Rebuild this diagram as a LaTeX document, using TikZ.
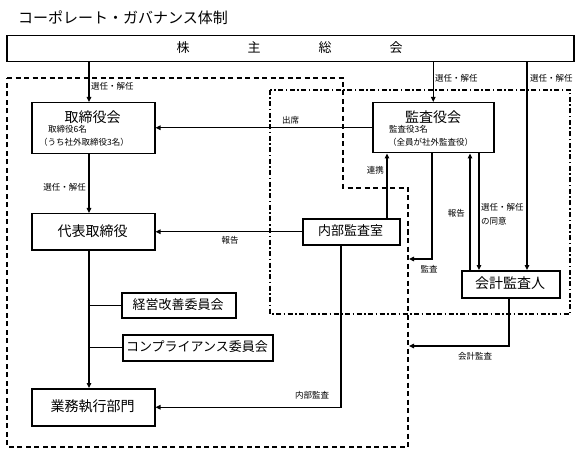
\documentclass[tikz,border=0pt]{standalone}
\usepackage{fontspec}
\setmainfont{Noto Sans CJK JP}
\usetikzlibrary{arrows.meta}
\tikzset{
  box/.style={draw, line width=1.5pt, inner sep=0pt, anchor=north west, fill=white},
  conn/.style={line width=1.2pt},
  arr/.style={conn, -{Triangle[length=5pt,width=4.5pt]}},
  lbl/.style={inner sep=0pt, font=\fontsize{8.5pt}{9pt}\selectfont},
  big/.style={inner sep=0pt, font=\fontsize{14pt}{16pt}\selectfont},
  mid/.style={inner sep=0pt, font=\fontsize{13pt}{15pt}\selectfont},
  dashbox/.style={line width=1.2pt, dash pattern=on 5pt off 3.5pt},
  dotbox/.style={line width=1.2pt, dash pattern=on 5pt off 2.5pt on 1.5pt off 2.5pt},
}
\begin{document}
\begin{tikzpicture}[x=1pt,y=-1pt]
\useasboundingbox (0,0) rectangle (580,454);
% title
\node[inner sep=0pt, anchor=west, font=\fontsize{15pt}{17pt}\selectfont] (title) at (18,18) {コーポレート・ガバナンス体制};
% region outlines
\draw[dashbox] (7,78) -- (343,78) -- (343,188) -- (408,188) -- (408,447) -- (7,447) -- cycle;
\draw[dotbox] (270,90) rectangle (570,314);
% boxes
\node[box, minimum width=567pt, minimum height=26pt] (sh) at (6,35) {};
\node[mid] (shtxt) at (289.5,47.5) {株\hskip58pt 主\hskip58pt 総\hskip58pt 会};
\node[box, minimum width=123pt, minimum height=51pt] (tb) at (31,102) {};
\node[big] (tbt) at (92.5,117) {取締役会};
\node[lbl, anchor=west] (tb1) at (48,129.5) {取締役6名};
\node[lbl, anchor=west] (tb2) at (39,142) {（うち社外取締役3名）};
\node[box, minimum width=121pt, minimum height=50pt] (kan) at (372,102) {};
\node[big] (kant) at (433,117) {監査役会};
\node[lbl, anchor=west] (kan1) at (389,129.5) {監査役3名};
\node[lbl, anchor=west] (kan2) at (388,142) {（全員が社外監査役）};
\node[box, minimum width=123pt, minimum height=36pt] (ceo) at (31,213) {};
\node[big] (ceot) at (92.5,231) {代表取締役};
\node[box, minimum width=97pt, minimum height=26pt] (nb) at (302,218) {};
\node[mid] (nbt) at (350.5,231) {内部監査室};
\node[box, minimum width=98pt, minimum height=27pt] (ka) at (461,270) {};
\node[big] (kat) at (510,283.5) {会計監査人};
\node[box, minimum width=114pt, minimum height=25pt] (kk) at (121,292) {};
\node[mid] (kkt) at (178,304.5) {経営改善委員会};
\node[box, minimum width=150pt, minimum height=26pt] (cp) at (122,334) {};
\node[mid] (cpt) at (197,347) {コンプライアンス委員会};
\node[box, minimum width=123pt, minimum height=37pt] (biz) at (31,388) {};
\node[big] (bizt) at (92.5,406.5) {業務執行部門};
% free ends on the outline
\coordinate (m1) at (409,259);
\coordinate (m2) at (409,346);
% connectors
\draw[arr] (sh.south -| 89,0) -- (tb.north -| 89,0);
\node[lbl, anchor=west] (l1) at (91,86) {選任・解任};
\draw[arr] (tb.south -| 89,0) -- (ceo.north -| 89,0);
\node[lbl, anchor=east] (l2) at (86,187) {選任・解任};
\draw[arr] (ceo.south -| 89,0) -- (biz.north -| 89,0);
\draw[conn] (kk.west -| 89,0) -- (kk.west);
\draw[conn] (cp.west -| 89,0) -- (cp.west);
\draw[arr] (kan.west) -- (kan.west -| tb.east);
\node[lbl, anchor=west] (l3) at (282,120) {出席};
\draw[arr] (sh.south -| kan.north) -- (kan.north);
\node[lbl, anchor=west] (l4) at (435,78) {選任・解任};
\draw[arr] (sh.south -| 527,0) -- (ka.north -| 527,0);
\node[lbl, anchor=west] (l5) at (530,78) {選任・解任};
\draw[arr] (nb.north -| 387,0) -- (kan.south -| 387,0);
\node[lbl, anchor=east] (l6) at (384,170) {連携};
\draw[arr] (nb.west) -- (nb.west -| ceo.east);
\node[lbl] (l7) at (230,240) {報告};
\draw[arr] (kan.south -| 432,0) |- (m1);
\node[lbl] (l8) at (429,269) {監査};
\draw[arr] (ka.north -| 470,0) -- (kan.south -| 470,0);
\node[lbl, anchor=east] (l9) at (465,213) {報告};
\draw[arr] (kan.south -| 479,0) -- (ka.north -| 479,0);
\node[lbl, anchor=west] (l10) at (481,207) {選任・解任};
\node[lbl, anchor=west] (l11) at (481,221) {の同意};
\draw[arr] (ka.south -| 509,0) |- (m2);
\node[lbl] (l12) at (475,356) {会計監査};
\draw[arr] (nb.south -| 341,0) |- (biz.east);
\node[lbl] (l13) at (312,395) {内部監査};
\end{tikzpicture}
\end{document}
